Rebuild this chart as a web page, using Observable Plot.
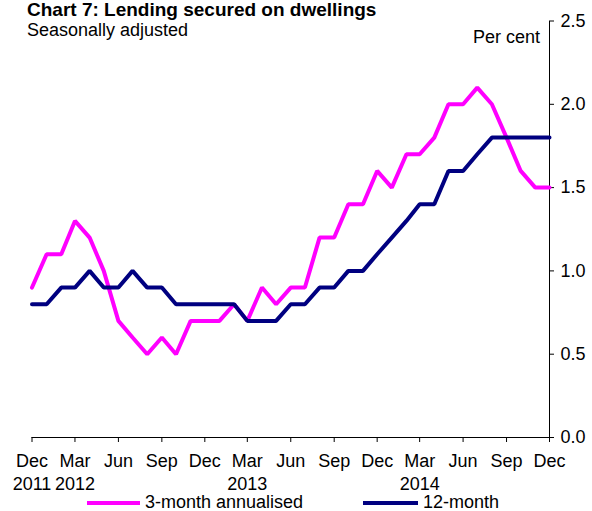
<!DOCTYPE html>
<html>
<head>
<meta charset="utf-8">
<script src="https://cdn.jsdelivr.net/npm/d3@7"></script>
<script src="https://cdn.jsdelivr.net/npm/@observablehq/plot@0.6"></script>
<style>
  html, body { margin: 0; padding: 0; background: #fff; }
  #wrap { position: relative; width: 592px; height: 511px; overflow: hidden; font-family: "Liberation Sans", Arial, sans-serif; color: #000; }
  .t { position: absolute; white-space: nowrap; line-height: 18px; font-size: 18px; }
  #title { font-weight: bold; font-size: 19px; line-height: 19px; left: 27px; top: 0px; }
  #sub { left: 27px; top: 21px; }
  #unit { right: 52px; top: 28px; }
  #plot { position: absolute; left: 0; top: 0; }
  .sw { position: absolute; height: 4px; }
</style>
</head>
<body>
<div id="wrap">
  <div id="plot"></div>
  <div class="t" id="title">Chart 7: Lending secured on dwellings</div>
  <div class="t" id="sub">Seasonally adjusted</div>
  <div class="t" id="unit">Per cent</div>
  <div class="sw" style="left:87px;top:501px;width:53px;background:#FF00FF"></div>
  <div class="t" style="left:145px;top:493px">3-month annualised</div>
  <div class="sw" style="left:363px;top:501px;width:55px;background:#000080"></div>
  <div class="t" style="left:423px;top:493px">12-month</div>
</div>
<script>
// Monthly observations, Dec 2011 to Dec 2014
const startMonth = new Date(Date.UTC(2011, 11, 1));
const threeMonthAnnualised = [0.9,1.1,1.1,1.3,1.2,1.0,0.7,0.6,0.5,0.6,0.5,0.7,0.7,0.7,0.8,0.7,0.9,0.8,0.9,0.9,1.2,1.2,1.4,1.4,1.6,1.5,1.7,1.7,1.8,2.0,2.0,2.1,2.0,1.8,1.6,1.5,1.5];
const twelveMonth = [0.8,0.8,0.9,0.9,1.0,0.9,0.9,1.0,0.9,0.9,0.8,0.8,0.8,0.8,0.8,0.7,0.7,0.7,0.8,0.8,0.9,0.9,1.0,1.0,1.1,1.2,1.3,1.4,1.4,1.6,1.6,1.7,1.8,1.8,1.8,1.8,1.8];
const tickMonths = ["Dec","Mar","Jun","Sep","Dec","Mar","Jun","Sep","Dec","Mar","Jun","Sep","Dec"];
const tickYears  = ["2011","2012","","","","2013","","","","2014","","",""];
const yTicks = [0, 0.5, 1.0, 1.5, 2.0, 2.5];

const dates = threeMonthAnnualised.map((_, i) => d3.utcMonth.offset(startMonth, i));
const rows = dates.map((d, i) => ({date: d, a: threeMonthAnnualised[i], b: twelveMonth[i]}));
const tickDates = tickMonths.map((_, i) => d3.utcMonth.offset(startMonth, 3 * i));
const tickLabel = new Map(tickDates.map((d, i) => [+d, tickYears[i] ? tickMonths[i] + "\n" + tickYears[i] : tickMonths[i]]));

const chart = Plot.plot({
  width: 592,
  height: 495,
  marginLeft: 31.5,
  marginRight: 43,
  marginTop: 20.5,
  marginBottom: 58,
  style: {fontFamily: "Liberation Sans, Arial, sans-serif", fontSize: "18px", color: "#000", background: "transparent"},
  x: {type: "utc", domain: [dates[0], dates[dates.length - 1]]},
  y: {domain: [0, 2.5]},
  marks: [
    Plot.ruleY([0], {stroke: "#000"}),
    Plot.ruleX([dates[dates.length - 1]], {stroke: "#000"}),
    Plot.axisX({ticks: tickDates, tickSize: 5, tickPadding: 9, tickFormat: d => tickLabel.get(+d), lineHeight: 1.24, fontSize: 18, label: null}),
    Plot.axisY({anchor: "right", ticks: yTicks, tickSize: 4, tickPadding: 7, tickFormat: d3.format(".1f"), fontSize: 18, label: null}),
    Plot.line(rows, {x: "date", y: "a", stroke: "#FF00FF", strokeWidth: 4, strokeLinejoin: "miter"}),
    Plot.line(rows, {x: "date", y: "b", stroke: "#000080", strokeWidth: 4, strokeLinejoin: "miter"})
  ]
});
document.getElementById("plot").appendChild(chart);
</script>
</body>
</html>
